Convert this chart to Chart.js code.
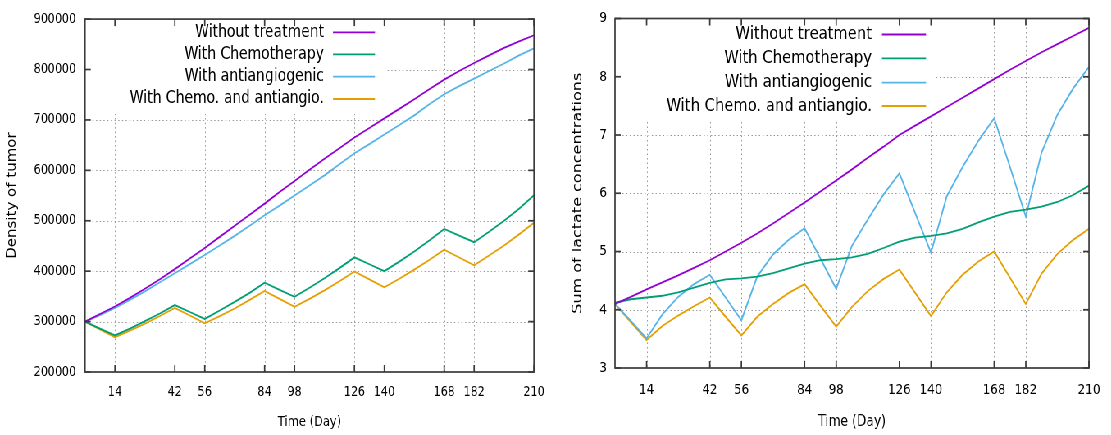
<!DOCTYPE html>
<html><head><meta charset="utf-8">
<script src="https://cdn.jsdelivr.net/npm/chart.js@4.4.1/dist/chart.umd.min.js"></script>
<style>
html,body{margin:0;padding:0;background:#fff;overflow:hidden;width:1111px;height:435px;}
#wrap{position:absolute;left:0;top:0;width:1355px;height:435px;transform:scaleX(0.82);transform-origin:0 0;}
#c1{position:absolute;left:0;top:0;}
#c2{position:absolute;left:690px;top:0;}
</style></head><body>
<div id="wrap"><canvas id="c1" width="690" height="435"></canvas><canvas id="c2" width="665" height="435"></canvas></div>
<script>
// ---------- data ----------
const days = [0,7,14,21,28,35,42,49,56,63,70,77,84,91,98,105,112,119,126,133,140,147,154,161,168,175,182,189,196,203,210];
const xTickDays = [14,42,56,84,98,126,140,168,182,210];
const seriesNames = ['Without treatment','With Chemotherapy','With antiangiogenic','With Chemo. and antiangio.'];
const seriesColors = ['#9400d3','#009e73','#56b4e9','#e69f00'];

const densityRange = [200000, 900000, 100000];
const densityNoTreatment = [300000,315000,330000,347000,365000,384000,404000,425000,446000,468000,490000,512000,534000,557000,579000,601000,623000,644000,665000,684000,703000,722000,741000,761000,780000,797000,813000,828000,843000,856000,868000];
const densityChemo = [300000,286000,272500,286000,301000,316000,332700,319000,305300,322000,339000,357000,377000,363000,349000,367000,386000,406000,427400,413700,400000,419000,439000,461000,483700,470600,457500,478000,500000,524000,550400];
const densityAntiangio = [300000,313000,327000,343000,360000,378000,396000,414000,432000,451000,470000,490000,511000,530000,550000,570000,590000,612000,634000,652000,671000,690000,709000,731000,751000,767000,782000,797000,812000,828000,842000];
const densityCombined = [300000,284500,269000,282000,296000,311000,327000,312000,296700,311000,326000,343000,360800,345000,329400,345000,362000,380000,399400,383700,368000,385000,403000,422000,442600,427200,411800,431000,451000,473000,496000];

const lactateRange = [3, 9, 1];
const lactateNoTreatment = [4.10,4.22,4.35,4.47,4.59,4.72,4.85,5.00,5.15,5.31,5.48,5.66,5.84,6.03,6.22,6.41,6.61,6.80,7.00,7.16,7.32,7.48,7.64,7.80,7.96,8.12,8.27,8.42,8.56,8.70,8.84];
const lactateChemo = [4.12,4.18,4.21,4.24,4.30,4.38,4.46,4.52,4.54,4.57,4.63,4.71,4.79,4.85,4.87,4.90,4.96,5.06,5.17,5.24,5.27,5.31,5.39,5.50,5.60,5.68,5.72,5.77,5.85,5.97,6.13];
const lactateAntiangio = [4.10,3.81,3.51,3.92,4.22,4.44,4.60,4.21,3.82,4.57,4.95,5.20,5.40,4.88,4.36,5.10,5.55,5.98,6.34,5.66,4.98,5.95,6.45,6.90,7.29,6.45,5.60,6.70,7.35,7.80,8.17];
const lactateCombined = [4.10,3.79,3.48,3.72,3.90,4.06,4.21,3.88,3.56,3.88,4.10,4.29,4.44,4.07,3.71,4.05,4.32,4.53,4.69,4.29,3.89,4.30,4.60,4.83,5.00,4.55,4.10,4.62,4.96,5.20,5.39];

// ---------- drawing ----------
const TXT = '#000';
function gnuDecor(geo) {
  function seg(ctx, x0, y0, x1, y1) { ctx.beginPath(); ctx.moveTo(x0, y0); ctx.lineTo(x1, y1); ctx.stroke(); }
  return {
    id: 'gnuDecor',
    beforeDatasetsDraw(chart) {
      const {ctx, chartArea: a, scales: {x, y}} = chart;
      ctx.save();
      ctx.strokeStyle = '#999'; ctx.lineWidth = 1; ctx.setLineDash([1.5, 3]);
      xTickDays.forEach(d => {
        if (d >= x.max) return;
        const px = Math.round(x.getPixelForValue(d)) + 0.5;
        seg(ctx, px, a.top, px, a.bottom);
      });
      y.ticks.forEach(t => {
        if (t.value <= y.min || t.value >= y.max) return;
        const py = Math.round(y.getPixelForValue(t.value)) + 0.5;
        seg(ctx, a.left, py, a.right, py);
      });
      ctx.setLineDash([]);
      ctx.fillStyle = '#fff';
      ctx.fillRect(a.left + 1, a.top + 1, geo.boxRight - a.left - 1, geo.boxBottom - a.top - 1);
      ctx.restore();
    },
    afterDatasetsDraw(chart) {
      const {ctx, chartArea: a, scales: {x, y}} = chart;
      ctx.save();
      ctx.strokeStyle = '#3a3a3a'; ctx.lineWidth = 1.7;
      ctx.strokeRect(a.left, a.top, a.right - a.left, a.bottom - a.top);
      const tl = 7;
      xTickDays.forEach(d => {
        const px = x.getPixelForValue(d);
        seg(ctx, px, a.bottom, px, a.bottom - tl);
        seg(ctx, px, a.top, px, a.top + tl);
      });
      y.ticks.forEach(t => {
        const py = y.getPixelForValue(t.value);
        seg(ctx, a.left, py, a.left + tl, py);
        seg(ctx, a.right, py, a.right - tl, py);
      });
      ctx.font = geo.legendFont + 'px "DejaVu Sans"';
      ctx.textAlign = 'right'; ctx.textBaseline = 'middle'; ctx.fillStyle = TXT;
      seriesNames.forEach((name, i) => {
        const yy = geo.legendRows[i];
        ctx.fillText(name, geo.textRight, yy);
        ctx.strokeStyle = seriesColors[i]; ctx.lineWidth = 1.8;
        seg(ctx, geo.sampleX0, yy, geo.sampleX1, yy);
      });
      ctx.restore();
    }
  };
}

function makeChart(id, geo, range, seriesList, yTitle) {
  return new Chart(document.getElementById(id), {
    type: 'line',
    data: {
      datasets: seriesList.map((vals, i) => ({
        label: seriesNames[i],
        data: days.map((d, k) => ({x: d, y: vals[k]})),
        borderColor: seriesColors[i], backgroundColor: seriesColors[i],
        borderWidth: 1.8, pointRadius: 0, tension: 0, fill: false
      }))
    },
    options: {
      responsive: false, animation: false, devicePixelRatio: 1,
      layout: {padding: {left: 0, top: 15, right: geo.padRight, bottom: 0}},
      plugins: {legend: {display: false}, tooltip: {enabled: false}, title: {display: false}},
      scales: {
        x: {
          type: 'linear', min: 0, max: 210,
          afterBuildTicks: s => { s.ticks = xTickDays.map(v => ({value: v})); },
          afterFit: s => { s.height = geo.xHeight; },
          grid: {display: false, drawTicks: false}, border: {display: false},
          ticks: {autoSkip: false, maxRotation: 0, minRotation: 0, padding: geo.xTickPad, color: TXT,
                  font: {family: 'DejaVu Sans', size: geo.tickFont}, callback: v => String(v)},
          title: {display: true, text: 'Time (Day)', color: TXT,
                  font: {family: 'DejaVu Sans', size: geo.xTitleFont}, padding: {top: 0, bottom: geo.xTitlePadBottom}}
        },
        y: {
          type: 'linear', min: range[0], max: range[1],
          afterFit: s => { s.width = geo.yWidth; },
          grid: {display: false, drawTicks: false}, border: {display: false},
          ticks: {stepSize: range[2], padding: geo.yTickPad, color: TXT,
                  font: {family: 'DejaVu Sans', size: geo.tickFont}, callback: v => String(v)},
          title: {display: true, text: yTitle, color: TXT,
                  font: {family: 'DejaVu Sans', size: geo.yTitleFont}, padding: {top: geo.yTitlePadTop, bottom: 0}}
        }
      }
    },
    plugins: [gnuDecor(geo)]
  });
}

makeChart('c1', {
  yWidth: 103.7, padRight: 38.8, xHeight: 63, tickFont: 13.5, xTickPad: 12.7,
  xTitleFont: 14, xTitlePadBottom: 4.6, yTickPad: 11, yTitleFont: 15, yTitlePadTop: 6.3,
  legendFont: 17, textRight: 395.1, sampleX0: 406.1, sampleX1: 457.3,
  legendRows: [32.3, 54.3, 76.7, 99], boxRight: 469.5, boxBottom: 114
}, densityRange, [densityNoTreatment, densityChemo, densityAntiangio, densityCombined], 'Density of tumor');

makeChart('c2', {
  yWidth: 60, padRight: 17.2, xHeight: 67, tickFont: 14.5, xTickPad: 13.1,
  xTitleFont: 15, xTitlePadBottom: 4, yTickPad: 9.8, yTitleFont: 16, yTitlePadTop: 5.4,
  legendFont: 18, textRight: 373.4, sampleX0: 385.6, sampleX1: 439.3,
  legendRows: [34.5, 58.3, 82.7, 106], boxRight: 450.2, boxBottom: 119
}, lactateRange, [lactateNoTreatment, lactateChemo, lactateAntiangio, lactateCombined], 'Sum of lactate concentrations');
</script>
</body></html>
